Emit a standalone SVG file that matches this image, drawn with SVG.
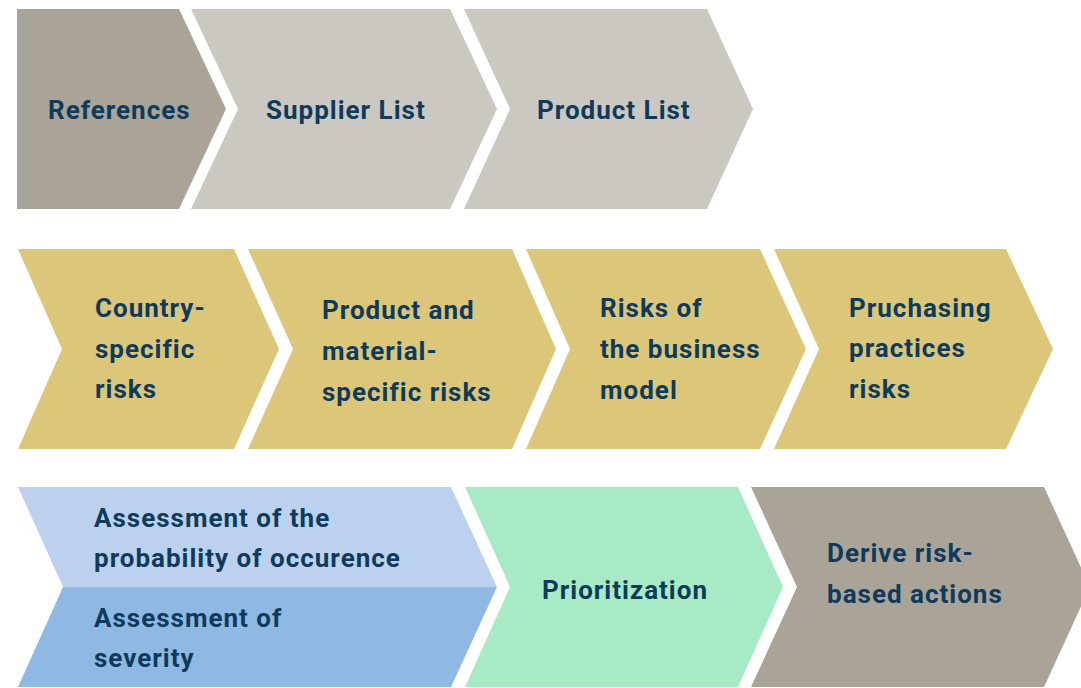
<svg xmlns="http://www.w3.org/2000/svg" width="1081" height="688" viewBox="0 0 1081 688">
<style>
text{font-family:Roboto,"Liberation Sans",sans-serif;font-weight:700;font-size:26px;fill:#0E3A5C;letter-spacing:1px}
.g1{fill:#AAA398}.g2{fill:#CBC7C1}.gold{fill:#DCC679}.b1{fill:#BBD1EE}.b2{fill:#8FB8E2}.gr{fill:#A8EAC6}
</style>
<rect width="1081" height="688" fill="#FFFFFF"/>
<g id="references"><polygon class="g1" points="17,9 179,9 226,109 179,209 17,209"/><text x="48" y="119">References</text></g>
<g id="supplier-list"><polygon class="g2" points="191,9 450,9 497,109 450,209 191,209 238,109"/><text x="266" y="119">Supplier List</text></g>
<g id="product-list"><polygon class="g2" points="464,9 707,9 753,109 707,209 464,209 510,109"/><text x="537" y="119">Product List</text></g>

<g id="country"><polygon class="gold" points="18,249 234,249 279,349 234,449 18,449 62,349"/><text x="95" y="317">Country-</text><text x="95" y="358">specific</text><text x="95" y="398">risks</text></g>
<g id="product-material"><polygon class="gold" points="248,249 512,249 556,349 512,449 248,449 293,349"/><text x="322" y="319">Product and</text><text x="322" y="360">material-</text><text x="322" y="401">specific risks</text></g>
<g id="business-model"><polygon class="gold" points="526,249 760,249 806,349 760,449 526,449 570,349"/><text x="600" y="317">Risks of</text><text x="600" y="358">the business</text><text x="600" y="399">model</text></g>
<g id="purchasing"><polygon class="gold" points="774,249 1006,249 1053,349 1006,449 774,449 819,349"/><text x="849" y="317">Pruchasing</text><text x="849" y="357">practices</text><text x="849" y="398">risks</text></g>

<g id="assessment"><polygon class="b1" points="18,487 451,487 497,587 63,587"/><polygon class="b2" points="63,587 497,587 451,687 18,687"/><text x="94" y="527">Assessment of the</text><text x="94" y="567">probability of occurence</text><text x="94" y="627">Assessment of</text><text x="94" y="667">severity</text></g>
<g id="prioritization"><polygon class="gr" points="465,487 738,487 783,587 738,687 465,687 510,587"/><text x="542" y="599">Prioritization</text></g>
<g id="derive"><polygon class="g1" points="751,487 1044,487 1090,587 1044,687 751,687 797,587"/><text x="827" y="562">Derive risk-</text><text x="827" y="603">based actions</text></g>
<g id="connectors"></g>
</svg>
